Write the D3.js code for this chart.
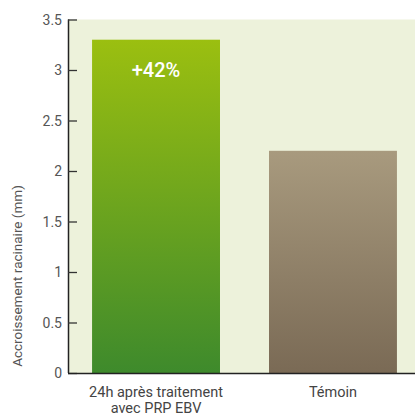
<!DOCTYPE html>
<html><head><meta charset="utf-8">
<script src="https://cdn.jsdelivr.net/npm/d3@7"></script>
<style>body{margin:0;background:#fff;} svg{display:block;font-family:Roboto,"DejaVu Sans",sans-serif;}</style>
</head><body>
<svg id="c" width="415" height="414"></svg>
<script>
const categories = ["24h après traitement|avec PRP EBV", "Témoin"];
const values = [3.3, 2.2];
const yTicks = [0, 0.5, 1, 1.5, 2, 2.5, 3, 3.5];
const yTickLabels = ["0", "0.5", "1", "1.5", "2", "2.5", "3", "3.5"];
const annotation = "+42%";
const yTitle = "Accroissement racinaire (mm)";

const svg = d3.select("#c");
const x0 = 68, x1 = 421, yTop = 19.5, yBot = 373;
const y = d3.scaleLinear().domain([0, 3.5]).range([yBot, yTop]);
const x = d3.scaleBand().domain(categories).range([x0, x1]).paddingInner(0.277).paddingOuter(0.136);

const defs = svg.append("defs");
const g1 = defs.append("linearGradient").attr("id","gGreen").attr("x1",0).attr("y1",0).attr("x2",0).attr("y2",1);
g1.append("stop").attr("offset","0%").attr("stop-color","#9bbf10");
g1.append("stop").attr("offset","100%").attr("stop-color","#3e8a2c");
const g2 = defs.append("linearGradient").attr("id","gBrown").attr("x1",0).attr("y1",0).attr("x2",0).attr("y2",1);
g2.append("stop").attr("offset","0%").attr("stop-color","#a89a7e");
g2.append("stop").attr("offset","100%").attr("stop-color","#7a6a55");

svg.append("rect").attr("x", x0).attr("y", y(3.5)).attr("width", 415 - x0).attr("height", yBot - y(3.5)).attr("fill", "#edf2db");

const fills = ["url(#gGreen)", "url(#gBrown)"];
svg.selectAll("rect.bar").data(values).join("rect").attr("class","bar")
  .attr("x", (d,i) => x(categories[i])).attr("width", x.bandwidth())
  .attr("y", d => y(d)).attr("height", d => yBot - y(d))
  .attr("fill", (d,i) => fills[i]);

svg.append("text").attr("x", x(categories[0]) + x.bandwidth()/2).attr("y", y(values[0]) + 37)
  .attr("text-anchor","middle").attr("fill","#fff").attr("font-size", 20).attr("font-weight", 500).text(annotation);

// y axis
const yAxis = d3.axisRight(y).tickValues(yTicks).tickSize(9).tickFormat("");
const ya = svg.append("g").attr("transform", `translate(${x0},0)`).call(yAxis);
ya.select(".domain").attr("stroke","#222").attr("stroke-width",1.5).attr("d", `M0.5,${yTop}V${yBot}`);
ya.selectAll(".tick line").attr("stroke","#333").attr("stroke-width",1.3);
svg.selectAll("text.yl").data(yTicks).join("text").attr("class","yl")
  .attr("x", 62).attr("y", d => y(d)).attr("dy","0.36em").attr("text-anchor","end")
  .attr("font-size", 14).attr("fill","#555").text((d,i) => yTickLabels[i]);

// x axis
svg.append("line").attr("x1", x0).attr("x2", 415).attr("y1", yBot + 0.5).attr("y2", yBot + 0.5).attr("stroke","#222").attr("stroke-width",1.5);
categories.forEach((c, i) => {
  const t = svg.append("text").attr("x", x(c) + x.bandwidth()/2).attr("y", yBot + 24)
    .attr("text-anchor","middle").attr("font-size", 14.5).attr("fill","#444");
  c.split("|").forEach((line, j) => t.append("tspan").attr("x", x(c) + x.bandwidth()/2).attr("dy", j ? 16 : 0).text(line));
});

svg.append("text").attr("transform", `translate(22,276) rotate(-90)`)
  .attr("text-anchor","middle").attr("font-size", 13.5).attr("fill","#555").text(yTitle);
</script>
</body></html>
